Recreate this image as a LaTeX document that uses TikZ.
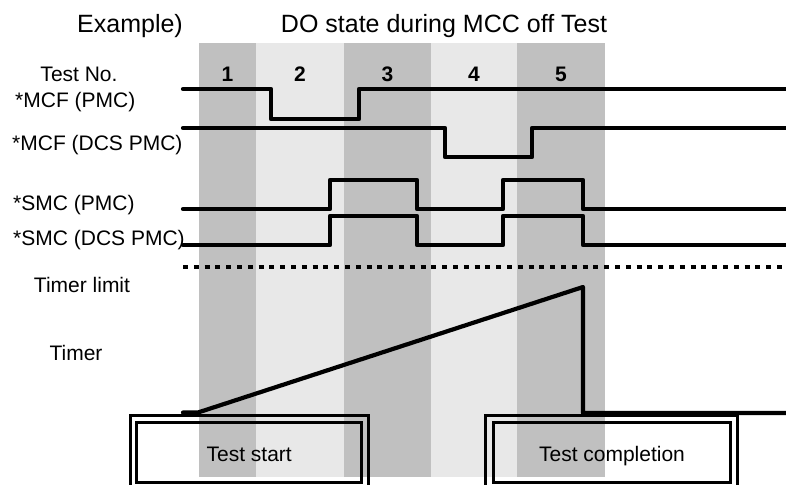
\documentclass[tikz,border=0pt]{standalone}
\usepackage{fontspec}
\setmainfont{Liberation Sans}
\definecolor{banddark}{RGB}{192,192,192}
\definecolor{bandlight}{RGB}{232,232,232}
\begin{document}
\begin{tikzpicture}[x=1pt,y=-1pt,
  ttl/.style={font=\fontsize{25}{30}\selectfont, inner sep=0pt},
  lbl/.style={font=\fontsize{21}{25}\selectfont, inner sep=0pt},
  num/.style={font=\fontsize{21}{25}\selectfont\bfseries, inner sep=0pt},
  sig/.style={line width=4.2pt, line cap=round, line join=round},
  limit/.style={line width=4pt, dash pattern=on 5pt off 5.8pt},
  boxin/.style={draw, line width=3pt, minimum height=60pt, inner sep=0pt,
    text height=19pt, text depth=2pt, font=\fontsize{21}{25}\selectfont},
  boxout/.style={draw, line width=3.3pt}]
\useasboundingbox (0,0) rectangle (786,484);

% test phase bands
\fill[banddark]  (199,43) rectangle (256,477);
\fill[bandlight] (256,43) rectangle (344,477);
\fill[banddark]  (344,43) rectangle (431,477);
\fill[bandlight] (431,43) rectangle (517,477);
\fill[banddark]  (517,43) rectangle (605,477);

% headings
\node[ttl, anchor=base] (example) at (130,33) {Example)};
\node[ttl, anchor=base] (title) at (444,33) {DO state during MCC off Test};

% test numbers
\node[lbl, anchor=base] (testno) at (79,82) {Test No.};
\node[num, anchor=base] (n1) at (227.5,82) {1};
\node[num, anchor=base] (n2) at (300,82) {2};
\node[num, anchor=base] (n3) at (387.5,82) {3};
\node[num, anchor=base] (n4) at (474,82) {4};
\node[num, anchor=base] (n5) at (561,82) {5};

% signal names
\node[lbl, anchor=base west] (mcfp) at (15,107) {*MCF (PMC)};
\node[lbl, anchor=base west] (mcfd) at (12,150) {*MCF (DCS PMC)};
\node[lbl, anchor=base west] (smcp) at (13,210) {*SMC (PMC)};
\node[lbl, anchor=base west] (smcd) at (13,245) {*SMC (DCS PMC)};
\node[lbl, anchor=base] (tlimit) at (82,292) {Timer limit};
\node[lbl, anchor=base] (timer) at (76,360) {Timer};

% digital output traces
\draw[sig] (183,89) -- (271,89) -- (271,119) -- (359,119) -- (359,89) -- (786,89);
\draw[sig] (183,128) -- (445,128) -- (445,157) -- (532,157) -- (532,128) -- (786,128);
\draw[sig] (183,209) -- (330,209) -- (330,180) -- (417,180) -- (417,209)
  -- (503,209) -- (503,180) -- (583,180) -- (583,209) -- (786,209);
\draw[sig] (183,245) -- (330,245) -- (330,216) -- (417,216) -- (417,245)
  -- (503,245) -- (503,216) -- (583,216) -- (583,245) -- (786,245);

% timer limit
\draw[limit] (183,267) -- (786,267);

% timer ramp and reset
\draw[sig] (183,412.5) -- (198,412.5) -- (583,287) -- (583,413) -- (786,413);

% event boxes
\node[boxin, minimum width=225pt] (start) at (249.2,452.5) {Test start};
\draw[boxout] ([xshift=-5pt,yshift=5.8pt]start.north west)
  rectangle ([xshift=5.3pt,yshift=-12pt]start.south east);
\node[boxin, minimum width=237.5pt] (done) at (612,452.5) {Test completion};
\draw[boxout] ([xshift=-6pt,yshift=5.8pt]done.north west)
  rectangle ([xshift=5pt,yshift=-12pt]done.south east);
\end{tikzpicture}
\end{document}
